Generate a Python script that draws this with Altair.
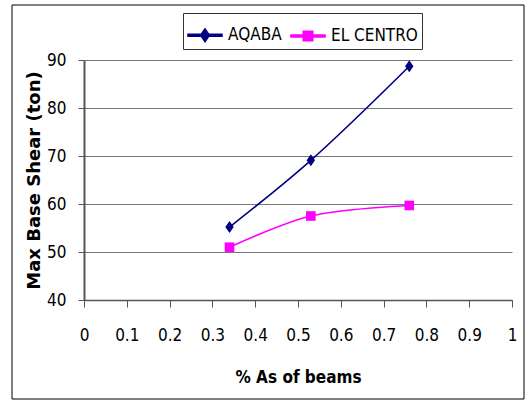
import altair as alt
import pandas as pd

# Ratio of steel in the beams (% As) and the peak base shear for each record
steel_ratio = [0.34, 0.53, 0.76]
aqaba_shear = [55.2, 69.1, 88.7]
el_centro_shear = [51.0, 57.5, 59.7]

series_names = ["AQABA", "EL CENTRO"]
series_colors = ["#000080", "#FF00FF"]

x_ticks = [0, 0.1, 0.2, 0.3, 0.4, 0.5, 0.6, 0.7, 0.8, 0.9, 1]
y_ticks = [40, 50, 60, 70, 80, 90]

records = []
for name, values in zip(series_names, [aqaba_shear, el_centro_shear]):
    for x, y in zip(steel_ratio, values):
        records.append({"series": name, "as_ratio": x, "shear": y})
df = pd.DataFrame(records)

NARROW = "DejaVu Sans Condensed, Liberation Sans"

# Marker shapes: tall diamond and square
diamond = "M0,-1L0.7,0L0,1L-0.7,0Z"
square = "M-0.8,-0.8L0.8,-0.8L0.8,0.8L-0.8,0.8Z"
marker_paths = [diamond, square]

# Legend keys: a short bar of line with the marker on top
key_aqaba = "M-1,-0.055L1,-0.055L1,0.055L-1,0.055Z M0,-0.38L0.26,0L0,0.38L-0.26,0Z"
key_centro = "M-1,-0.055L1,-0.055L1,0.055L-1,0.055Z M-0.28,-0.28L0.28,-0.28L0.28,0.28L-0.28,0.28Z"

color_scale = alt.Scale(domain=series_names, range=series_colors)
key_scale = alt.Scale(domain=series_names, range=[key_aqaba, key_centro])

x_enc = alt.X(
    "as_ratio:Q",
    scale=alt.Scale(domain=[0, 1], nice=False),
    axis=alt.Axis(
        values=x_ticks,
        format="~g",
        grid=False,
        title="% As of beams",
        titleFont=NARROW,
        titleFontSize=17,
        titleFontWeight="bold",
        titleColor="black",
        titleY=77,
        titleBaseline="middle",
        labelFont=NARROW,
        labelFontSize=17,
        labelColor="black",
        labelPadding=20,
        tickSize=7,
        tickColor="#555555",
        domainColor="#555555",
        domainWidth=1.5,
        labelFlush=False,
    ),
)
y_enc = alt.Y(
    "shear:Q",
    scale=alt.Scale(domain=[40, 90], nice=False),
    axis=alt.Axis(
        values=y_ticks,
        grid=True,
        gridColor="#777777",
        gridWidth=1,
        title="Max Base Shear (ton)",
        titleFont="DejaVu Sans",
        titleFontSize=18,
        titleFontWeight="bold",
        titleColor="black",
        titleAngle=270,
        titleX=-50,
        titleY=120,
        titleAlign="center",
        titleBaseline="middle",
        labelFont=NARROW,
        labelFontSize=17,
        labelColor="black",
        labelPadding=12,
        tickSize=6,
        tickColor="#555555",
        domainColor="#555555",
        domainWidth=2,
        labelFlush=False,
    ),
)

color_nolegend = alt.Color("series:N", scale=color_scale, legend=None)

lines = alt.Chart(df).mark_line(interpolate="catmull-rom", strokeWidth=1.6).encode(
    x=x_enc, y=y_enc, color=color_nolegend, detail="series:N"
)

# One marker layer per series so each keeps its own shape
marker_layers = []
for name, path in zip(series_names, marker_paths):
    marker_layers.append(
        alt.Chart(df)
        .transform_filter(alt.datum.series == name)
        .mark_point(filled=True, size=144, opacity=1, shape=path)
        .encode(x=x_enc, y=y_enc, color=color_nolegend)
    )

legend = alt.Legend(
    title=None,
    orient="none",
    legendX=99,
    legendY=-47,
    direction="horizontal",
    strokeColor="#333333",
    fillColor="white",
    padding=4,
    symbolSize=1156,
    symbolOpacity=1,
    labelFont=NARROW,
    labelFontSize=17,
    labelColor="black",
    labelOffset=5,
    columnPadding=6,
)

# Transparent layer that only carries the legend (line + marker keys)
legend_layer = (
    alt.Chart(df)
    .mark_point(filled=True, size=1156, opacity=0)
    .encode(
        x=x_enc,
        y=y_enc,
        color=alt.Color("series:N", scale=color_scale, legend=legend),
        shape=alt.Shape("series:N", scale=key_scale, legend=legend),
    )
)

# Frame around the whole figure
frame = alt.Chart(alt.Data(values=[{}])).mark_rect(
    fillOpacity=0, stroke="black", strokeWidth=1
).encode(
    x=alt.value(-72), x2=alt.value(440), y=alt.value(-55), y2=alt.value(339)
)

chart = alt.layer(frame, legend_layer, lines, *marker_layers).properties(
    width=428,
    height=240,
    autosize=alt.AutoSizeParams(type="none"),
    padding={"left": 84, "top": 60, "right": 17, "bottom": 101},
    background="white",
).configure_view(stroke=None)

chart.save("out.html", embed_options={"renderer": "svg", "actions": False})
